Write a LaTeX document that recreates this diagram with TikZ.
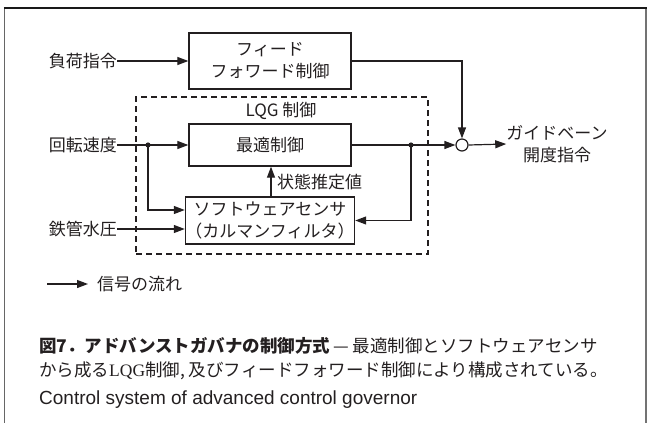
\documentclass[tikz,border=0pt]{standalone}
\usepackage{fontspec}
\setmainfont{Liberation Sans}
\newfontfamily\jp{Noto Sans CJK JP}
\newfontfamily\enserif{Liberation Serif}
\usetikzlibrary{arrows.meta}
\definecolor{ink}{HTML}{231F20}
\begin{document}
\begin{tikzpicture}[x=1pt,y=-1pt,
  every node/.style={font=\jp\fontsize{17}{22}\selectfont, inner sep=0pt, text=ink},
  blk/.style={draw=ink, line width=1.3pt, minimum width=162pt, align=center},
  sig/.style={draw=ink, line width=1.2pt, -{Triangle[length=11pt,width=8pt]}},
  jdot/.style={fill=ink},
  capfont/.style={font=\jp\fontsize{17.5}{22}\selectfont}]
\useasboundingbox (0,0) rectangle (648,423);
% frame
\draw[line width=1.4pt, color=black!60] (4.5,424) -- (4.5,8);
\draw[line width=1.8pt, color=black!55] (646,8) -- (646,424);
\draw[line width=1.2pt, color=black!90] (3.8,8) -- (646.9,8);
% blocks
\node[blk, minimum height=56pt] (ff) at (270,61) {フィード\\フォワード制御};
\node[draw=ink, dashed, dash pattern=on 6pt off 4pt, line width=1.1pt, minimum width=292pt, minimum height=157pt] (lqg) at (282,175.5) {};
\node (lqgt) at (281,111) {LQG 制御};
\node[blk, minimum height=42pt] (opt) at (270,145) {最適制御};
\node[blk, minimum height=47pt] (soft) at (270,220.5) {ソフトウェアセンサ\\（カルマンフィルタ）};
\node[draw=ink, circle, line width=1.2pt, minimum size=12pt] (sum) at (462,145) {};
% input labels
\node[anchor=east] (load) at (117,61) {負荷指令};
\node[anchor=east] (spd) at (117,145) {回転速度};
\node[anchor=east] (pen) at (117,229) {鉄管水圧};
\node[align=center] (out) at (557,144) {ガイドベーン\\開度指令};
\node[anchor=west] (est) at (277,182) {状態推定値};
% junctions
\coordinate (j1) at (148,145);
\coordinate (j2) at (411,145);
\fill[jdot] (j1) circle (2.6pt);
\fill[jdot] (j2) circle (2.6pt);
% connectors
\draw[sig] (load.east) -- (ff.west);
\draw[sig] (spd.east) -- (opt.west);
\draw[sig] (j1) |- ([yshift=10.5pt]soft.west);
\draw[sig] (pen.east) -- (pen.east -| soft.west);
\draw[sig] ([xshift=1pt]soft.north) -- ([xshift=1pt]opt.south);
\draw[sig] (opt.east) -- (sum.west);
\draw[sig] (j2) |- (soft.east);
\draw[sig] (ff.east) -| (sum.north);
\draw[sig] (sum.east) -- (out.west);
% legend
\coordinate (lg1) at (47,284);
\coordinate (lg2) at (88,284);
\draw[sig] (lg1) -- (lg2);
\node[anchor=west] (lgt) at (97,284) {信号の流れ};
% caption
\node[anchor=west, capfont] (cap1) at (39,346) {{\bfseries 図7．アドバンストガバナの制御方式}\,— 最適制御とソフトウェアセンサ};
\node[anchor=west, capfont] (cap2) at (39,371) {から成る{\enserif LQG}制御, 及びフィードフォワード制御により構成されている。};
\node[anchor=west, font=\fontsize{19}{22}\selectfont] (cap3) at (39,400) {Control system of advanced control governor};
\end{tikzpicture}
\end{document}
